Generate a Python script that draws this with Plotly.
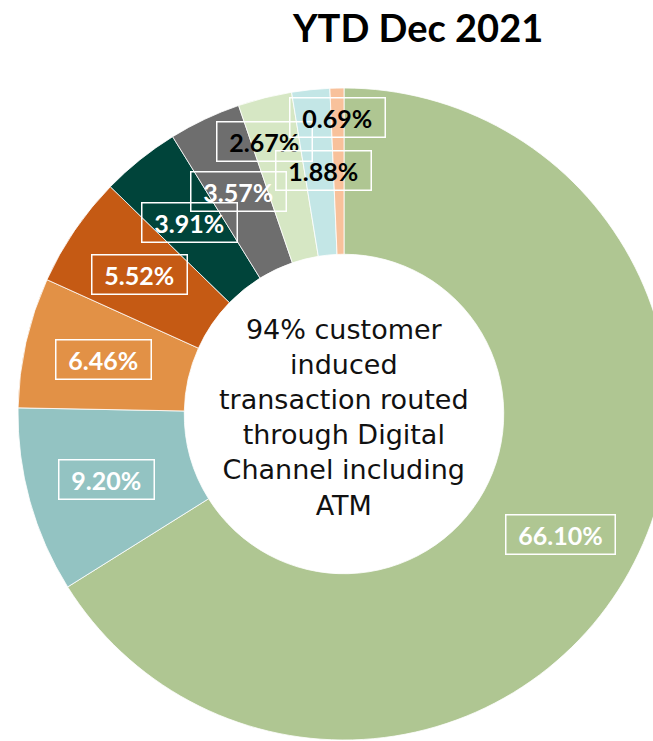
import math
import plotly.graph_objects as go

# ---- data ----
categories = ["A", "B", "C", "D", "E", "F", "G", "H", "I"]
values = [66.10, 9.20, 6.46, 5.52, 3.91, 3.57, 2.67, 1.88, 0.69]
value_labels = ["66.10%", "9.20%", "6.46%", "5.52%", "3.91%", "3.57%", "2.67%", "1.88%", "0.69%"]
title_text = "YTD Dec 2021"
center_text = "94% customer<br>induced<br>transaction routed<br>through Digital<br>Channel including<br>ATM"

# ---- styles ----
colors = ["#AFC692", "#93C3C2", "#E29146", "#C55A14", "#00443A",
          "#6E6E6E", "#D6E7C4", "#C3E6E6", "#F8C19B"]
text_colors = ["white"] * 6 + ["black"] * 3
label_r = [0.76, 0.755, 0.755, 0.76, 0.755, 0.755, 0.87, 0.75, 0.91]
label_dang = [0, 0, 0, 0, 0, 0, -2.3, 1.0, 0]
LABEL_SIZE = 25
char_w = {".": 0.26, "%": 0.86}

W, H = 700, 760
CX, CY, R = 344, 414, 326  # pixel geometry of pie
HOLE = 0.49

fig = go.Figure(go.Pie(
    labels=categories, values=values, sort=False, direction="clockwise",
    rotation=0, hole=HOLE, textinfo="none", hoverinfo="label+percent",
    marker=dict(colors=colors, line=dict(color="white", width=0.8)),
    domain=dict(x=[(CX - R) / W, (CX + R) / W], y=[1 - (CY + R) / H, 1 - (CY - R) / H]),
    showlegend=False,
))

total = sum(values)
cum = 0.0
annotations = []
for i, v in enumerate(values):
    mid = (cum + v / 2) / total * 360 + label_dang[i]
    cum += v
    a = math.radians(mid)
    px = CX + label_r[i] * R * math.sin(a)
    py = CY - label_r[i] * R * math.cos(a)
    tw = sum(char_w.get(c, 0.58) for c in value_labels[i]) * LABEL_SIZE
    annotations.append(dict(
        x=px / W, y=1 - py / H, xref="paper", yref="paper", showarrow=False,
        text=value_labels[i], font=dict(family="Lato", size=LABEL_SIZE, color=text_colors[i], weight="bold"),
        width=tw + 18, height=34, align="center", valign="middle",
        bordercolor="white", borderwidth=1.5, borderpad=2, xanchor="center", yanchor="middle"))

annotations.append(dict(
    x=CX / W, y=1 - 417 / H, xref="paper", yref="paper", showarrow=False,
    text=center_text, font=dict(family="DejaVu Sans", size=27, color="#111111"),
    xanchor="center", yanchor="middle", align="center"))

annotations.append(dict(
    x=417 / W, y=1 - 27 / H, xref="paper", yref="paper", showarrow=False,
    text="<b>" + title_text + "</b>", font=dict(family="Lato", size=38, color="black"),
    xanchor="center", yanchor="middle"))

fig.update_layout(
    width=W, height=H, margin=dict(l=0, r=0, t=0, b=0),
    paper_bgcolor="white", plot_bgcolor="white",
    annotations=annotations,
)

fig.write_html("out.html", config={"displayModeBar": False},
               post_script="document.body.style.margin='0';document.body.style.overflow='hidden';document.documentElement.style.overflow='hidden';")
